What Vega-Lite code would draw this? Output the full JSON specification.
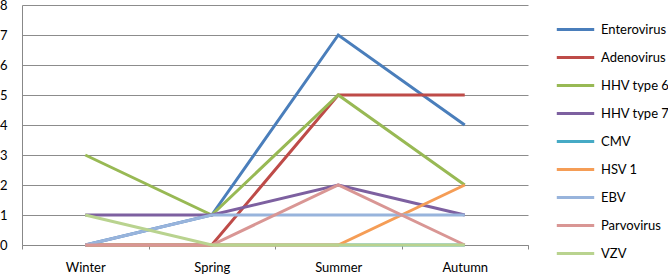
{
  "$schema": "https://vega.github.io/schema/vega-lite/v6.json",
  "width": 506,
  "height": 240,
  "autosize": "none",
  "padding": {"left": 22, "top": 5, "right": 140, "bottom": 32},
  "background": "white",
  "config": {
    "font": "Lato",
    "view": {"stroke": null},
    "axis": {"labelFont": "Lato", "labelFontSize": 13, "labelColor": "#000000", "domainColor": "#888888", "tickColor": "#888888", "gridColor": "#8c8c8c", "title": null}
  },
  "data": {
    "values": [
      {"season": "Winter", "virus": "Enterovirus", "count": 0},
      {"season": "Spring", "virus": "Enterovirus", "count": 1},
      {"season": "Summer", "virus": "Enterovirus", "count": 7},
      {"season": "Autumn", "virus": "Enterovirus", "count": 4},
      {"season": "Winter", "virus": "Adenovirus", "count": 0},
      {"season": "Spring", "virus": "Adenovirus", "count": 0},
      {"season": "Summer", "virus": "Adenovirus", "count": 5},
      {"season": "Autumn", "virus": "Adenovirus", "count": 5},
      {"season": "Winter", "virus": "HHV type 6", "count": 3},
      {"season": "Spring", "virus": "HHV type 6", "count": 1},
      {"season": "Summer", "virus": "HHV type 6", "count": 5},
      {"season": "Autumn", "virus": "HHV type 6", "count": 2},
      {"season": "Winter", "virus": "HHV type 7", "count": 1},
      {"season": "Spring", "virus": "HHV type 7", "count": 1},
      {"season": "Summer", "virus": "HHV type 7", "count": 2},
      {"season": "Autumn", "virus": "HHV type 7", "count": 1},
      {"season": "Winter", "virus": "CMV", "count": 0},
      {"season": "Spring", "virus": "CMV", "count": 0},
      {"season": "Summer", "virus": "CMV", "count": 0},
      {"season": "Autumn", "virus": "CMV", "count": 0},
      {"season": "Winter", "virus": "HSV 1", "count": 0},
      {"season": "Spring", "virus": "HSV 1", "count": 0},
      {"season": "Summer", "virus": "HSV 1", "count": 0},
      {"season": "Autumn", "virus": "HSV 1", "count": 2},
      {"season": "Winter", "virus": "EBV", "count": 0},
      {"season": "Spring", "virus": "EBV", "count": 1},
      {"season": "Summer", "virus": "EBV", "count": 1},
      {"season": "Autumn", "virus": "EBV", "count": 1},
      {"season": "Winter", "virus": "Parvovirus", "count": 0},
      {"season": "Spring", "virus": "Parvovirus", "count": 0},
      {"season": "Summer", "virus": "Parvovirus", "count": 2},
      {"season": "Autumn", "virus": "Parvovirus", "count": 0},
      {"season": "Winter", "virus": "VZV", "count": 1},
      {"season": "Spring", "virus": "VZV", "count": 0},
      {"season": "Summer", "virus": "VZV", "count": 0},
      {"season": "Autumn", "virus": "VZV", "count": 0}
    ]
  },
  "mark": {"type": "line", "strokeWidth": 3},
  "encoding": {
    "x": {
      "field": "season",
      "type": "nominal",
      "sort": ["Winter", "Spring", "Summer", "Autumn"],
      "scale": {"paddingInner": 0, "paddingOuter": 0},
      "axis": {"labelAngle": 0, "tickBand": "extent", "tickSize": 4, "labelPadding": 12, "grid": false}
    },
    "y": {
      "field": "count",
      "type": "quantitative",
      "scale": {"domain": [0, 8], "nice": false},
      "axis": {"values": [0, 1, 2, 3, 4, 5, 6, 7, 8], "ticks": false, "labelPadding": 15, "labelOverlap": false, "labelFlush": false, "grid": true}
    },
    "color": {
      "field": "virus",
      "type": "nominal",
      "sort": ["Enterovirus", "Adenovirus", "HHV type 6", "HHV type 7", "CMV", "HSV 1", "EBV", "Parvovirus", "VZV"],
      "scale": {
        "domain": ["Enterovirus", "Adenovirus", "HHV type 6", "HHV type 7", "CMV", "HSV 1", "EBV", "Parvovirus", "VZV"],
        "range": ["#4a7ebb", "#be4b48", "#98b954", "#7d60a0", "#46aac5", "#f59d56", "#98b4dc", "#d99694", "#b9d38f"]
      },
      "legend": {
        "title": null,
        "orient": "none",
        "legendX": 533,
        "legendY": 18,
        "symbolType": "stroke",
        "symbolStrokeWidth": 3,
        "symbolSize": 1400,
        "labelFont": "Lato",
        "labelFontSize": 13,
        "labelColor": "#000000",
        "labelOffset": 5,
        "rowPadding": 14,
        "clipHeight": 13
      }
    }
  }
}
